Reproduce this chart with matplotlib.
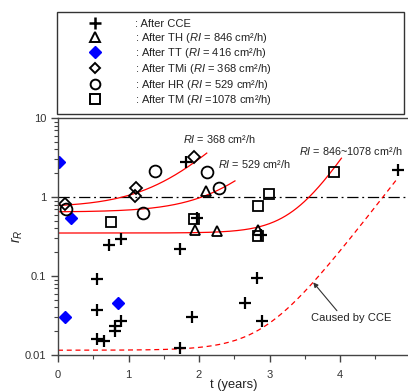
import numpy as np
import matplotlib
matplotlib.use("Agg")
import matplotlib.pyplot as plt
from matplotlib.lines import Line2D

plt.rcParams['font.family'] = ['Liberation Sans', 'DejaVu Sans']
plt.rcParams['mathtext.fontset'] = 'custom'
plt.rcParams['mathtext.rm'] = 'Liberation Sans'
plt.rcParams['mathtext.it'] = 'Liberation Sans:italic'

# ---------------- data ----------------
cce_t = [4.82, 1.82, 0.72, 0.89, 1.73, 1.97, 2.88, 0.55, 0.55, 0.55, 0.65, 0.81, 0.81, 0.90, 1.73, 1.90, 2.82, 2.65, 2.89]
cce_r = [2.2, 2.77, 0.246, 0.29, 0.22, 0.54, 0.33, 0.091, 0.037, 0.016, 0.015, 0.023, 0.020, 0.027, 0.0123, 0.030, 0.095, 0.046, 0.027]

th_t = [2.10, 1.95, 2.26, 2.84]
th_r = [1.2, 0.38, 0.37, 0.38]

tt_t = [0.02, 0.18, 0.10, 0.85]
tt_r = [2.77, 0.54, 0.030, 0.046]

tmi_t = [0.10, 1.10, 1.09, 1.93]
tmi_r = [0.82, 1.30, 1.03, 3.2]

hr_t = [0.11, 1.20, 1.37, 2.12, 2.28]
hr_r = [0.70, 0.63, 2.13, 2.08, 1.30]

tm_t = [0.75, 1.93, 2.99, 2.84, 2.84, 3.92]
tm_r = [0.48, 0.53, 1.10, 0.77, 0.32, 2.08]

# trend curves  r = base + k*(exp(c*t) - 1), fitted by eye; t_end is where each curve stops
curve_names = ["RI368", "RI529", "RI846", "CCE"]
curve_base = [0.78, 0.65, 0.35, 0.0115]
curve_k = [0.042, 0.0049, 8.7e-6, 4.9e-6]
curve_c = [2.0, 2.1, 3.15, 2.65]
curve_tend = [2.11, 2.51, 4.02, 4.80]

legend_labels = [": After CCE",
                 ": After TH ($\\mathit{RI}$ = 846 cm²/h)",
                 ": After TT ($\\mathit{RI}$ = 416 cm²/h)",
                 ": After TMi ($\\mathit{RI}$ = 368 cm²/h)",
                 ": After HR ($\\mathit{RI}$ = 529 cm²/h)",
                 ": After TM ($\\mathit{RI}$ =1078 cm²/h)"]

# ---------------- figure ----------------
W, H = 408, 392
fig = plt.figure(figsize=(W / 100, H / 100), dpi=100)
ax = fig.add_axes([58 / W, 1 - 355 / H, 352.5 / W, 237 / H])
ax.set_yscale('log')
ax.set_xlim(0, 5)
ax.set_ylim(0.01, 10)

# reference line r_R = 1
ax.axhline(1.0, color='black', lw=0.9, ls=(0, (9, 3, 1.5, 3)))

# trend curves
for base, k, c, te, name in zip(curve_base, curve_k, curve_c, curve_tend, curve_names):
    tt = np.linspace(0, te, 300)
    rr = base + k * (np.exp(c * tt) - 1)
    if name == "CCE":
        ax.plot(tt, rr, color='red', lw=0.9, ls=(0, (4, 3)))
    else:
        ax.plot(tt, rr, color='red', lw=0.9)

mk = dict(ls='none', color='black')
ax.plot(cce_t, cce_r, marker='+', ms=8, mew=1.6, **mk)
ax.plot(th_t, th_r, marker='^', ms=7, mfc='none', mew=1.3, **mk)
ax.plot(tt_t, tt_r, marker='D', ms=6.5, ls='none', color='#0000ff')
ax.plot(tmi_t, tmi_r, marker='D', ms=6, mfc='none', mew=1.3, **mk)
ax.plot(hr_t, hr_r, marker='o', ms=8.5, mfc='none', mew=1.3, **mk)
ax.plot(tm_t, tm_r, marker='s', ms=7.5, mfc='none', mew=1.3, **mk)

# curve labels
ax.text(1.77, 5.4, "$\\mathit{RI}$ = 368 cm²/h", fontsize=7.8, va='center', ha='left', color='#222222')
ax.text(2.27, 2.6, "$\\mathit{RI}$ = 529 cm²/h", fontsize=7.8, va='center', ha='left', color='#222222')
ax.text(3.42, 3.8, "$\\mathit{RI}$ = 846~1078 cm²/h", fontsize=7.8, va='center', ha='left', color='#222222')

ax.annotate("Caused by CCE", xy=(3.62, 0.083), xytext=(3.59, 0.029),
            fontsize=8, va='center', ha='left', color='#222222',
            arrowprops=dict(arrowstyle='-|>', color='#333333', lw=0.8,
                            shrinkA=0, shrinkB=0, mutation_scale=7,
                            relpos=(0.35, 1.0)))

# axes styling
for s in ['left', 'bottom', 'top']:
    ax.spines[s].set_color('#444444')
    ax.spines[s].set_linewidth(1.0)
ax.spines['right'].set_visible(False)
ax.set_xticks([0, 1, 2, 3, 4])
ax.set_xticks([0.5, 1.5, 2.5, 3.5, 4.5], minor=True)
ax.set_yticks([0.01, 0.1, 1, 10])
ax.set_yticklabels(['0.01', '0.1', '1', '10'])
ax.tick_params(axis='both', which='major', direction='out', length=5, width=1,
               labelsize=8, colors='#444444', labelcolor='#333333')
ax.tick_params(axis='both', which='minor', direction='out', length=3, width=0.8, colors='#444444')
ax.tick_params(axis='x', pad=6)
ax.set_xlabel("t (years)", fontsize=9.3, color='#222222', labelpad=-1)
ax.set_ylabel("$r_R$", fontsize=10, color='#222222', labelpad=0)

# legend
handles = [
    Line2D([], [], marker='+', ms=8, mew=1.8, ls='none', color='black'),
    Line2D([], [], marker='^', ms=6.5, mfc='none', mew=1.4, ls='none', color='black'),
    Line2D([], [], marker='D', ms=6, ls='none', color='#0000ff'),
    Line2D([], [], marker='D', ms=5.5, mfc='none', mew=1.4, ls='none', color='black'),
    Line2D([], [], marker='o', ms=7, mfc='none', mew=1.4, ls='none', color='black'),
    Line2D([], [], marker='s', ms=6.5, mfc='none', mew=1.4, ls='none', color='black'),
]
leg = fig.legend(handles, legend_labels, loc='upper left',
                 bbox_to_anchor=(57 / W, 1 - 113 / H, 347 / W, 101 / H),
                 mode='expand', borderaxespad=0, fontsize=8, frameon=True,
                 fancybox=False, edgecolor='black', borderpad=0.62,
                 handlelength=5.55, handletextpad=0.84, labelspacing=0.15)
leg.get_frame().set_linewidth(1.0)
for t in leg.get_texts():
    t.set_color('#222222')

fig.savefig("out.png", dpi=100)
